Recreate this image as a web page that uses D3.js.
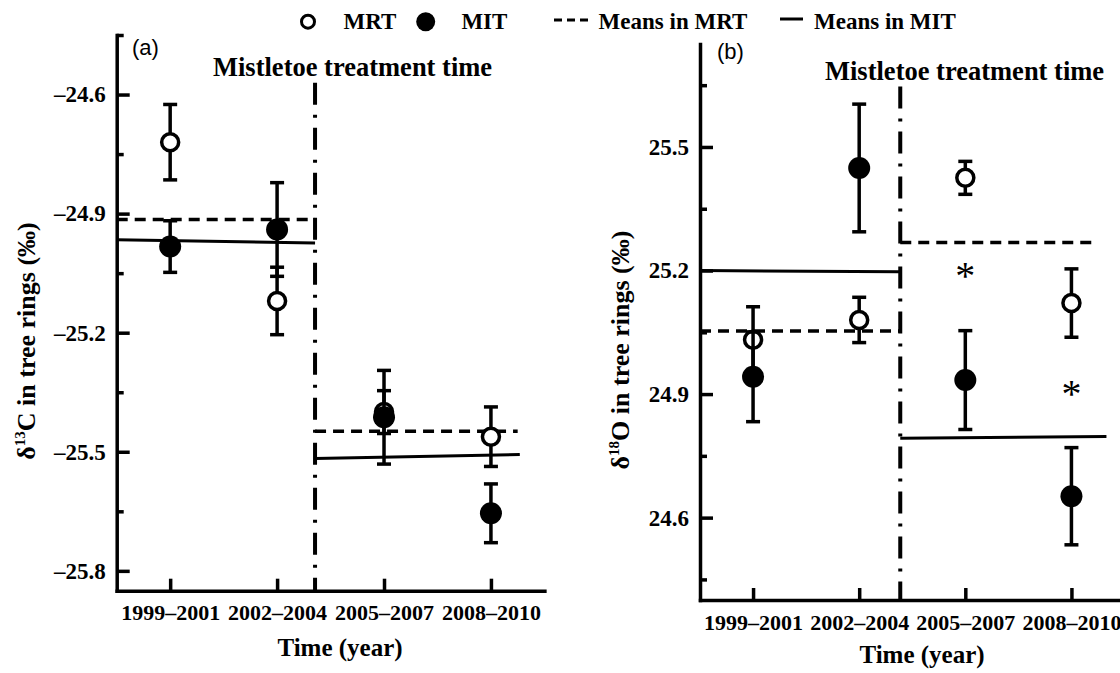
<!DOCTYPE html>
<html lang="en">
<head>
  <meta charset="UTF-8">
  <title>Mistletoe treatment: d13C and d18O in tree rings</title>
  <script src="https://d3js.org/d3.v7.min.js"></script>
  <style>
    body {
      margin: 0;
      background: #fff;
    }
    svg text {
      font-family: "Liberation Serif", "Times New Roman", serif;
      font-weight: bold;
      fill: #000;
    }
    .axis .domain, .axis line {
      stroke: #000;
      stroke-width: 3.5;
    }
    .axis .domain {
      stroke-linecap: square;
    }
    .axis text {
      font-size: 23px;
    }
    .x-axis text {
      font-size: 22px;
    }
    svg text.panel-tag {
      font-family: "Liberation Sans", Arial, sans-serif;
      font-weight: normal;
      font-size: 22px;
    }
    svg text.star {
      font-weight: normal;
      font-size: 40px;
    }
  </style>
</head>
<body>
  <div id="chart"></div>

  <script>
    // periods on the x axis
    const periods = ["1999–2001", "2002–2004", "2005–2007", "2008–2010"];

    // (a) delta 13C, means and error bars
    const c13MRT = [-24.72, -25.12, -25.40, -25.462];
    const c13MRTErr = [0.095, 0.085, 0.054, 0.075];
    const c13MIT = [-24.983, -24.94, -25.413, -25.655];
    const c13MITErr = [0.065, 0.118, 0.118, 0.074];
    // group means before / after treatment, [start, end] of each line
    const c13MeansMRT = [[-24.915, -24.915], [-25.448, -25.448]];
    const c13MeansMIT = [[-24.966, -24.974], [-25.517, -25.507]];
    const c13Major = [-24.6, -24.9, -25.2, -25.5, -25.8];
    const c13Minor = [-24.45, -24.75, -25.05, -25.35, -25.65];

    // (b) delta 18O
    const o18MRT = [25.032, 25.08, 25.425, 25.121];
    const o18MRTErr = [0.08, 0.055, 0.04, 0.083];
    const o18MIT = [24.942, 25.449, 24.934, 24.652];
    const o18MITErr = [0.109, 0.155, 0.12, 0.118];
    const o18MeansMRT = [[25.053, 25.053], [25.268, 25.268]];
    const o18MeansMIT = [[25.2, 25.197], [24.793, 24.797]];
    const o18Major = [25.5, 25.2, 24.9, 24.6];
    const o18Minor = [25.65, 25.35, 25.05, 24.75, 24.45];
    // significant differences (period index, value)
    const o18Stars = [[3, 25.2], [4, 24.915]];

    const svg = d3.select("#chart")
      .append("svg")
      .attr("width", 1120)
      .attr("height", 673);

    function drawPanel(p) {
      const x = d3.scaleLinear().domain([0.5, 4.5]).range(p.xRange);
      const y = d3.scaleLinear().domain(p.yDomain).range(p.yRange);
      const g = svg.append("g");

      // y axis, major ticks with labels, minor ticks without
      g.append("g")
        .attr("class", "axis")
        .attr("transform", `translate(${p.xRange[0]},0)`)
        .call(d3.axisLeft(y).tickValues(p.major).tickFormat(p.fmt)
          .tickSize(-13).tickSizeOuter(0).tickPadding(11));

      g.append("g")
        .attr("class", "axis")
        .attr("transform", `translate(${p.xRange[0]},0)`)
        .call(d3.axisLeft(y).tickValues(p.minor).tickFormat("")
          .tickSize(-7).tickSizeOuter(0))
        .call(a => a.select(".domain").remove());

      g.append("g")
        .attr("class", "axis x-axis")
        .attr("transform", `translate(0,${p.yRange[0]})`)
        .call(d3.axisBottom(x).tickValues([1, 2, 3, 4]).tickFormat(i => periods[i - 1])
          .tickSize(-12).tickSizeOuter(0).tickPadding(14));

      // treatment time
      g.append("line")
        .attr("x1", x(p.treat)).attr("x2", x(p.treat))
        .attr("y1", y(p.treatTop)).attr("y2", p.yRange[0])
        .attr("stroke", "#000")
        .attr("stroke-width", 4)
        .attr("stroke-dasharray", "22,10,3,10");

      g.append("text")
        .attr("x", p.noteX).attr("y", p.noteY)
        .attr("font-size", 26.5)
        .text("Mistletoe treatment time");

      // mean lines
      const meanLine = (vals, x0, x1, dashed) => {
        g.append("line")
          .attr("x1", x(x0)).attr("x2", x(x1))
          .attr("y1", y(vals[0])).attr("y2", y(vals[1]))
          .attr("stroke", "#000")
          .attr("stroke-width", dashed ? 3.5 : 3)
          .attr("stroke-dasharray", dashed ? "11,7" : null);
      };
      meanLine(p.meansMRT[0], 0.5, p.treat, true);
      meanLine(p.meansMRT[1], p.treat, p.dashEnd, true);
      meanLine(p.meansMIT[0], 0.5, p.treat, false);
      meanLine(p.meansMIT[1], p.treat, p.solidEnd, false);

      // error bars and points: MRT first, MIT on top
      const series = [
        {vals: p.mrt, errs: p.mrtErr, open: true},
        {vals: p.mit, errs: p.mitErr, open: false}
      ];
      series.forEach(s => {
        const pts = s.vals.map((v, i) => ({i: i + 1, v: v, e: s.errs[i]}));
        const eg = g.append("g").attr("stroke", "#000").attr("stroke-width", 3.5);
        eg.selectAll(".stem").data(pts).join("line")
          .attr("x1", d => x(d.i)).attr("x2", d => x(d.i))
          .attr("y1", d => y(d.v - d.e)).attr("y2", d => y(d.v + d.e));
        eg.selectAll(".capTop").data(pts).join("line")
          .attr("x1", d => x(d.i) - 7).attr("x2", d => x(d.i) + 7)
          .attr("y1", d => y(d.v + d.e)).attr("y2", d => y(d.v + d.e));
        eg.selectAll(".capBot").data(pts).join("line")
          .attr("x1", d => x(d.i) - 7).attr("x2", d => x(d.i) + 7)
          .attr("y1", d => y(d.v - d.e)).attr("y2", d => y(d.v - d.e));
        g.append("g").selectAll("circle").data(pts).join("circle")
          .attr("cx", d => x(d.i)).attr("cy", d => y(d.v))
          .attr("r", s.open ? 8.5 : 11)
          .attr("fill", s.open ? "#fff" : "#000")
          .attr("stroke", "#000")
          .attr("stroke-width", s.open ? 3.5 : 0);
      });

      (p.stars || []).forEach(st => {
        g.append("text")
          .attr("class", "star")
          .attr("x", x(st[0])).attr("y", y(st[1]))
          .attr("dy", "0.47em")
          .attr("text-anchor", "middle")
          .text("*");
      });

      g.append("text")
        .attr("class", "panel-tag")
        .attr("x", p.tagX).attr("y", p.tagY)
        .text(p.tag);

      g.append("text")
        .attr("x", p.xTitleX).attr("y", p.xTitleY)
        .attr("text-anchor", "middle")
        .attr("font-size", 25)
        .text("Time (year)");

      const yt = g.append("text")
        .attr("transform", `translate(${p.yTitleX},${p.yTitleY}) rotate(-90)`)
        .attr("text-anchor", "middle")
        .attr("font-size", 26);
      yt.append("tspan").text("δ");
      yt.append("tspan").attr("dy", -10).attr("font-size", 15).text(p.iso);
      yt.append("tspan").attr("dy", 10).text(p.elem + " in tree rings (‰)");
    }

    drawPanel({
      tag: "(a)", tagX: 132, tagY: 55,
      xRange: [116.7, 544.4], yRange: [590.7, 35], yDomain: [-25.85, -24.45],
      major: c13Major, minor: c13Minor, fmt: d => "–" + Math.abs(d).toFixed(1),
      mrt: c13MRT, mrtErr: c13MRTErr, mit: c13MIT, mitErr: c13MITErr,
      meansMRT: c13MeansMRT, meansMIT: c13MeansMIT,
      treat: 2.355, treatTop: -24.57, dashEnd: 4.25, solidEnd: 4.27,
      noteX: 213, noteY: 76,
      xTitleX: 340, xTitleY: 656,
      yTitleX: 35, yTitleY: 341, iso: "13", elem: "C"
    });

    drawPanel({
      tag: "(b)", tagX: 717, tagY: 59,
      xRange: [700, 1124.5], yRange: [600, 44], yDomain: [24.40, 25.75],
      major: o18Major, minor: o18Minor, fmt: d => d.toFixed(1),
      mrt: o18MRT, mrtErr: o18MRTErr, mit: o18MIT, mitErr: o18MITErr,
      meansMRT: o18MeansMRT, meansMIT: o18MeansMIT, stars: o18Stars,
      treat: 2.387, treatTop: 25.647, dashEnd: 4.22, solidEnd: 4.33,
      noteX: 825, noteY: 80,
      xTitleX: 922, xTitleY: 663,
      yTitleX: 629, yTitleY: 350, iso: "18", elem: "O"
    });

    // legend
    const lg = svg.append("g").attr("font-size", 23);
    lg.append("circle").attr("cx", 308).attr("cy", 21.7).attr("r", 6.5)
      .attr("fill", "#fff").attr("stroke", "#000").attr("stroke-width", 3);
    lg.append("text").attr("x", 343.5).attr("y", 28.5).text("MRT");
    lg.append("circle").attr("cx", 425.7).attr("cy", 21.7).attr("r", 9.5).attr("fill", "#000");
    lg.append("text").attr("x", 461.4).attr("y", 28.5).text("MIT");
    lg.append("line").attr("x1", 554).attr("x2", 589).attr("y1", 20).attr("y2", 20)
      .attr("stroke", "#000").attr("stroke-width", 3).attr("stroke-dasharray", "8,5");
    lg.append("text").attr("x", 598.6).attr("y", 28.5).text("Means in MRT");
    lg.append("line").attr("x1", 780).attr("x2", 803).attr("y1", 19).attr("y2", 19)
      .attr("stroke", "#000").attr("stroke-width", 3);
    lg.append("text").attr("x", 814).attr("y", 28.5).text("Means in MIT");
  </script>
</body>
</html>
